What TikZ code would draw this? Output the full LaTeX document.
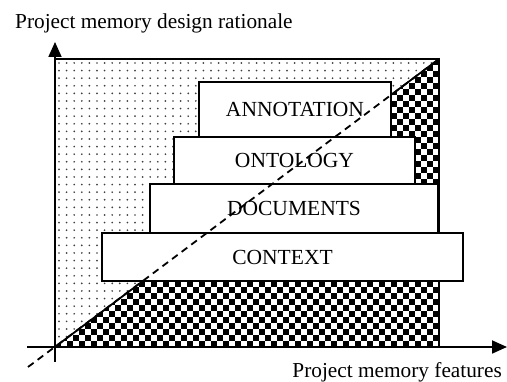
\documentclass[tikz,border=0pt]{standalone}
\usepackage{fontspec}
\setmainfont{Liberation Serif}
\usetikzlibrary{arrows.meta}

\tikzset{
  layerbox/.style={draw, fill=white, line width=1.3pt, inner sep=0pt,
    font=\fontsize{21.5}{25}\selectfont},
  axis/.style={line width=1.8pt, -{Triangle[length=15pt,width=13pt]}},
  frame/.style={line width=1.8pt},
  split/.style={line width=1.8pt},
  splitdash/.style={line width=1.8pt, dash pattern=on 7pt off 5pt},
  axislabel/.style={font=\fontsize{21.3}{25}\selectfont, inner sep=0pt},
}

\begin{document}
\begin{tikzpicture}[x=1pt, y=-1pt]
\useasboundingbox (0,0) rectangle (507,382);

% corners of the design space
\coordinate (o)  at (55,347);
\coordinate (tl) at (55,59);
\coordinate (tr) at (439,59);
\coordinate (br) at (439,347);
\coordinate (ext) at (28,367);

% dotted half above the diagonal
\begin{scope}
  \clip (o) -- (tl) -- (tr) -- cycle;
  \foreach \j in {0,...,38}{
    \foreach \i in {0,...,51}{
      \fill[black!75] ({59+7.6*\i},{63+7.6*\j}) circle (0.95pt);
    }
  }
\end{scope}

% checkered half below the diagonal
\begin{scope}
  \clip (o) -- (br) -- (tr) -- cycle;
  \foreach \j in {0,...,47}{
    \foreach \i in {0,...,31}{
      \fill ({55+6*(2*\i+mod(\j,2))},{347-6*\j}) rectangle ++(6,-6);
    }
  }
\end{scope}

% frame and diagonal
\draw[frame] (tl) -- (tr) -- (br);
\draw[split] (o) -- (tr);

% stacked layers
\node[layerbox, minimum width=361pt, minimum height=48pt] (context)   at (282.5,257) {CONTEXT};
\node[layerbox, minimum width=288pt, minimum height=49pt] (documents) at (294,208.5) {DOCUMENTS};
\node[layerbox, minimum width=241pt, minimum height=47pt] (ontology)  at (294.5,160.5) {ONTOLOGY};
\node[layerbox, minimum width=192pt, minimum height=55pt] (annot)     at (295,109.5) {ANNOTATION};

% dashed diagonal across the layers
\draw[splitdash] (ext) -- (tr);

% axes
\coordinate (xs) at (27,347);
\coordinate (xe) at (507,347);
\coordinate (ys) at (55,362);
\coordinate (ye) at (55,42);
\draw[axis] (xs) -- (xe);
\draw[axis] (ys) -- (ye);

% axis titles
\node[axislabel, anchor=base west] (ylab) at (15,29) {Project memory design rationale};
\node[axislabel, anchor=base east] (xlab) at (502,378) {Project memory features};
\end{tikzpicture}
\end{document}
